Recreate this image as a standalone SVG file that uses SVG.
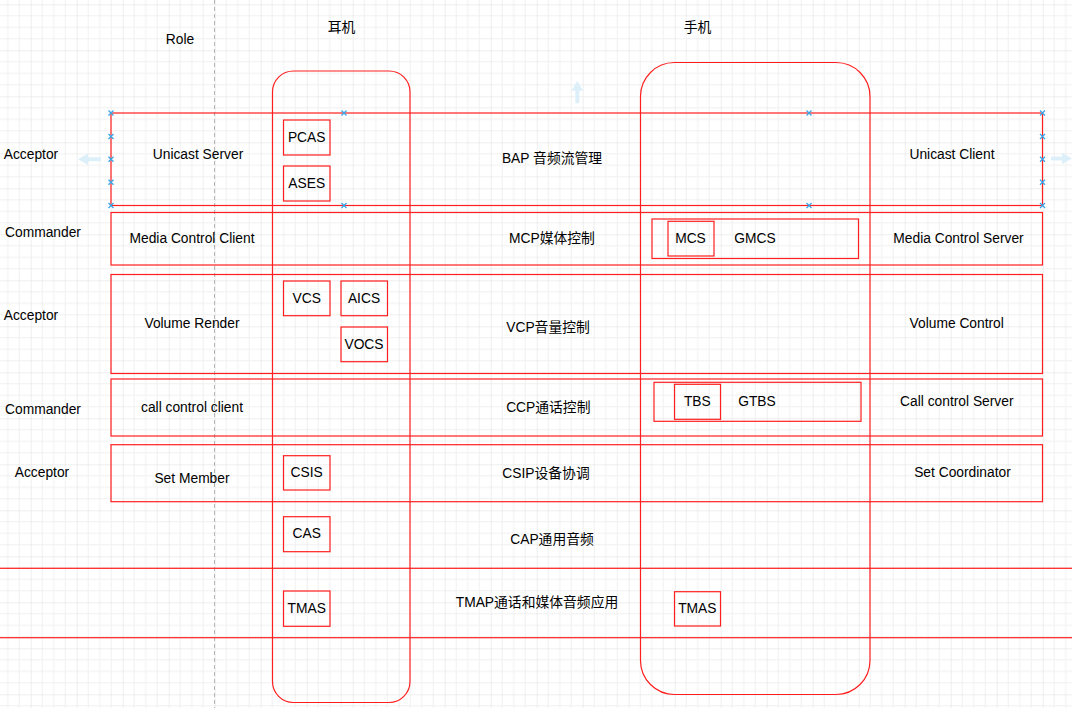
<svg xmlns="http://www.w3.org/2000/svg" width="1072" height="708" viewBox="0 0 1072 708">
<defs>
<pattern id="grid" patternUnits="userSpaceOnUse" x="30.7" y="4.3" width="46" height="46">
<path d="M11.5 0V46M23 0V46M34.5 0V46M0 11.5H46M0 23H46M0 34.5H46" stroke="#f0f0f0" stroke-width="1" fill="none"/>
<path d="M0 0V46M0 0H46" stroke="#dedede" stroke-width="1" fill="none"/>
</pattern>
<path id="hx" d="M-2.5 -2.5L2.5 2.5M-2.5 2.5L2.5 -2.5" stroke="#3aa6e8" stroke-width="1.3" fill="none"/>
</defs>
<style>
.b{fill:none;stroke:#ff1f1f;stroke-width:1.2}
.t{font-family:"Liberation Sans","Noto Sans CJK SC",sans-serif;font-size:13.8px;fill:#000;text-anchor:middle}
.ha{fill:#d9eefa;opacity:0.9}
</style>
<rect width="1072" height="708" fill="#fff"/>
<rect width="1072" height="708" fill="url(#grid)"/>
<line x1="214.5" y1="0" x2="214.5" y2="708" stroke="#b5b5b5" stroke-width="1" stroke-dasharray="4 3"/>

<g id="titles">
<text class="t" x="180" y="39" dy="0.35em">Role</text>
<text class="t" x="341.5" y="27" dy="0.35em">耳机</text>
<text class="t" x="697.5" y="27" dy="0.35em">手机</text>
</g>
<g id="roles">
<text class="t" x="31" y="154.5" dy="0.35em">Acceptor</text>
<text class="t" x="43" y="232" dy="0.35em">Commander</text>
<text class="t" x="31" y="315" dy="0.35em">Acceptor</text>
<text class="t" x="43" y="409" dy="0.35em">Commander</text>
<text class="t" x="42" y="472" dy="0.35em">Acceptor</text>
</g>

<g id="col-earphone"><rect class="b" x="272.5" y="71" width="137.5" height="631.5" rx="21" ry="21"/></g>
<g id="col-phone"><rect class="b" x="640.5" y="62.5" width="229.5" height="632" rx="34" ry="34"/></g>

<g id="row-bap">
<rect class="b" x="111" y="113" width="931.5" height="92.5"/>
<text class="t" x="198" y="154.5" dy="0.35em">Unicast Server</text>
<text class="t" x="552" y="158.5" dy="0.35em">BAP 音频流管理</text>
<text class="t" x="952" y="154.5" dy="0.35em">Unicast Client</text>
</g>
<g id="pcas"><rect class="b" x="283.5" y="120" width="46.5" height="35"/><text class="t" x="306.7" y="137.5" dy="0.35em">PCAS</text></g>
<g id="ases"><rect class="b" x="283.5" y="166" width="46.5" height="35"/><text class="t" x="306.7" y="183.5" dy="0.35em">ASES</text></g>

<g id="row-mcp">
<rect class="b" x="111" y="212.5" width="931.5" height="52.5"/>
<text class="t" x="192" y="238.3" dy="0.35em">Media Control Client</text>
<text class="t" x="552" y="238" dy="0.35em">MCP媒体控制</text>
<text class="t" x="958.5" y="238.3" dy="0.35em">Media Control Server</text>
</g>
<g id="gmcs"><rect class="b" x="652" y="219" width="206.5" height="39.5"/><text class="t" x="755" y="238.3" dy="0.35em">GMCS</text></g>
<g id="mcs"><rect class="b" x="668" y="221.3" width="46" height="34.7"/><text class="t" x="690.5" y="238.3" dy="0.35em">MCS</text></g>

<g id="row-vcp">
<rect class="b" x="111" y="274.5" width="931.5" height="99"/>
<text class="t" x="192" y="323.3" dy="0.35em">Volume Render</text>
<text class="t" x="548" y="326.7" dy="0.35em">VCP音量控制</text>
<text class="t" x="956.7" y="323.3" dy="0.35em">Volume Control</text>
</g>
<g id="vcs"><rect class="b" x="283.5" y="281" width="46.5" height="34.7"/><text class="t" x="306.7" y="298.3" dy="0.35em">VCS</text></g>
<g id="aics"><rect class="b" x="341" y="281" width="46.5" height="34.7"/><text class="t" x="364" y="298.3" dy="0.35em">AICS</text></g>
<g id="vocs"><rect class="b" x="341" y="327" width="46.5" height="34.7"/><text class="t" x="364" y="344" dy="0.35em">VOCS</text></g>

<g id="row-ccp">
<rect class="b" x="111" y="379" width="931.5" height="57"/>
<text class="t" x="192" y="406.7" dy="0.35em">call control client</text>
<text class="t" x="548.3" y="407" dy="0.35em">CCP通话控制</text>
<text class="t" x="956.8" y="401" dy="0.35em">Call control Server</text>
</g>
<g id="gtbs"><rect class="b" x="654" y="382.3" width="207" height="39"/><text class="t" x="757" y="401" dy="0.35em">GTBS</text></g>
<g id="tbs"><rect class="b" x="674.5" y="384.3" width="46" height="35"/><text class="t" x="697.3" y="401" dy="0.35em">TBS</text></g>

<g id="row-csip">
<rect class="b" x="111" y="444.7" width="931.5" height="57"/>
<text class="t" x="192" y="478.3" dy="0.35em">Set Member</text>
<text class="t" x="546" y="472.7" dy="0.35em">CSIP设备协调</text>
<text class="t" x="962.5" y="472.3" dy="0.35em">Set Coordinator</text>
</g>
<g id="csis"><rect class="b" x="283.5" y="455.7" width="46.5" height="34.3"/><text class="t" x="306.7" y="471.7" dy="0.35em">CSIS</text></g>

<g id="cap">
<text class="t" x="552" y="539.3" dy="0.35em">CAP通用音频</text>
</g>
<g id="cas"><rect class="b" x="283.5" y="516.7" width="46.5" height="35"/><text class="t" x="306.7" y="533.3" dy="0.35em">CAS</text></g>

<g id="row-tmap">
<rect class="b" x="-10" y="568.3" width="1092" height="69.4"/>
<text class="t" x="537" y="601.7" dy="0.35em">TMAP通话和媒体音频应用</text>
</g>
<g id="tmas-left"><rect class="b" x="283.5" y="591" width="46.5" height="35.3"/><text class="t" x="306.7" y="607.7" dy="0.35em">TMAS</text></g>
<g id="tmas-right"><rect class="b" x="674.5" y="591.7" width="46" height="34.3"/><text class="t" x="697.3" y="608.3" dy="0.35em">TMAS</text></g>

<g id="selection-handles">
<use href="#hx" x="111" y="113"/><use href="#hx" x="344" y="113"/><use href="#hx" x="809" y="113"/><use href="#hx" x="1042.5" y="113"/>
<use href="#hx" x="111" y="205.5"/><use href="#hx" x="344" y="205.5"/><use href="#hx" x="809" y="205.5"/><use href="#hx" x="1042.5" y="205.5"/>
<use href="#hx" x="111" y="136.5"/><use href="#hx" x="111" y="159.3"/><use href="#hx" x="111" y="182.3"/>
<use href="#hx" x="1042.5" y="136.5"/><use href="#hx" x="1042.5" y="159.3"/><use href="#hx" x="1042.5" y="182.3"/>
<path class="ha" d="M78 159.3L88 153.5V157.3H101V161.3H88V165.1Z"/>
<path class="ha" d="M1072 158.5L1062 152.7V156.5H1051V160.5H1062V164.3Z"/>
<path class="ha" d="M577.3 80.7L571.5 90.7H575.3V103.3H579.3V90.7H583.1Z"/>
</g>
<g id="connectors"/>
</svg>
